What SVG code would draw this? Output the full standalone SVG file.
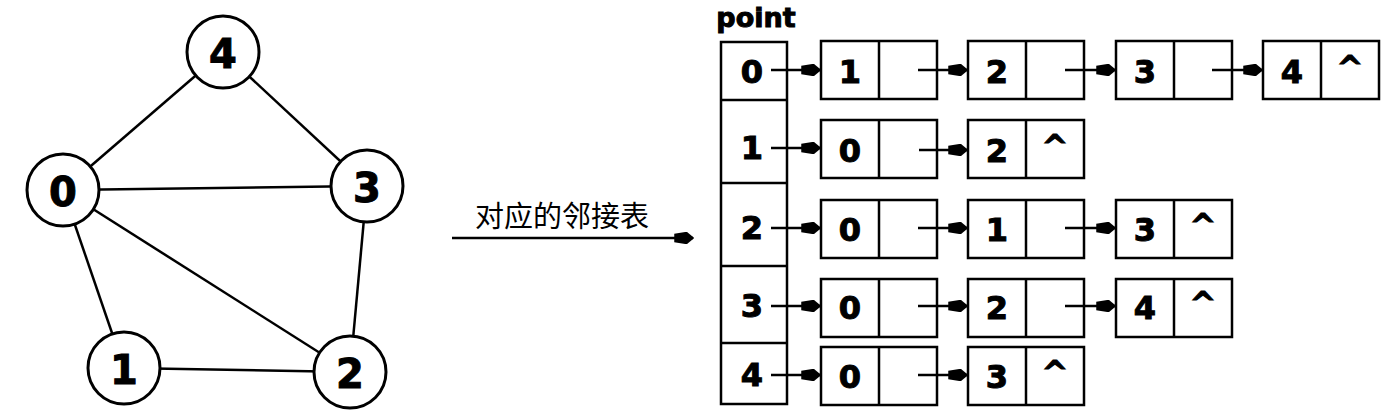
<svg xmlns="http://www.w3.org/2000/svg" width="1385" height="413" viewBox="0 0 1385 413">
<style>
.n{fill:#fff;stroke:#000;stroke-width:3}
.e{stroke:#000;stroke-width:2.5}
.b{fill:none;stroke:#000;stroke-width:2.5}
.t{font-family:"DejaVu Sans",sans-serif;font-weight:bold;text-anchor:middle;dominant-baseline:central;fill:#000;stroke:#000;stroke-width:1}
.g{font-size:40px}
.l{font-size:32px}
.a{stroke:#000;stroke-width:2.5;marker-end:url(#m)}
</style>
<defs><marker id="m" markerWidth="8" markerHeight="5" refX="7.5" refY="2.5" orient="auto" markerUnits="strokeWidth"><path d="M0,0.8 L5,0 L8,2.5 L5,5 L0,4.2Z" fill="#000"/></marker></defs>
<rect width="1385" height="413" fill="#fff"/>
<g id="edges">
<line class="e" x1="63" y1="190" x2="223" y2="52"/>
<line class="e" x1="223" y1="52" x2="367" y2="186"/>
<line class="e" x1="63" y1="190" x2="367" y2="186"/>
<line class="e" x1="63" y1="190" x2="350" y2="372"/>
<line class="e" x1="63" y1="190" x2="124" y2="368"/>
<line class="e" x1="124" y1="368" x2="350" y2="372"/>
<line class="e" x1="367" y1="186" x2="350" y2="372"/>
</g>
<g id="v4"><circle class="n" cx="223" cy="52" r="36"/><text class="t g" x="223" y="54">4</text></g>
<g id="v0"><circle class="n" cx="63" cy="190" r="36"/><text class="t g" x="63" y="192">0</text></g>
<g id="v3"><circle class="n" cx="367" cy="186" r="36"/><text class="t g" x="367" y="188">3</text></g>
<g id="v1"><circle class="n" cx="124" cy="368" r="36"/><text class="t g" x="124" y="370">1</text></g>
<g id="v2"><circle class="n" cx="350" cy="372" r="36"/><text class="t g" x="350" y="374">2</text></g>
<g id="label">
<text x="562" y="214" font-family="'Noto Sans CJK SC',sans-serif" font-size="29" text-anchor="middle" dominant-baseline="central">对应的邻接表</text>
<line class="a" x1="452" y1="238" x2="693" y2="238"/>
</g>
<g id="point">
<text class="t" x="756" y="17" font-size="27">point</text>
<rect class="b" x="721" y="42" width="66" height="362"/>
<line class="e" x1="721" y1="100" x2="787" y2="100"/>
<line class="e" x1="721" y1="183" x2="787" y2="183"/>
<line class="e" x1="721" y1="266" x2="787" y2="266"/>
<line class="e" x1="721" y1="343" x2="787" y2="343"/>
<text class="t l" x="752" y="72">0</text>
<text class="t l" x="752" y="148">1</text>
<text class="t l" x="752" y="228">2</text>
<text class="t l" x="752" y="306">3</text>
<text class="t l" x="752" y="375">4</text>
</g>
<g id="lists">
<g id="r0">
<rect class="b" x="821" y="41" width="116" height="58"/><line class="e" x1="879" y1="41" x2="879" y2="99"/><text class="t l" x="850" y="72">1</text>
<rect class="b" x="968" y="41" width="116" height="58"/><line class="e" x1="1026" y1="41" x2="1026" y2="99"/><text class="t l" x="997" y="72">2</text>
<rect class="b" x="1116" y="41" width="116" height="58"/><line class="e" x1="1174" y1="41" x2="1174" y2="99"/><text class="t l" x="1145" y="72">3</text>
<rect class="b" x="1263" y="41" width="116" height="58"/><line class="e" x1="1321" y1="41" x2="1321" y2="99"/><text class="t l" x="1292" y="72">4</text><text class="t l" x="1350" y="68">^</text>
</g>
<g id="r1">
<rect class="b" x="821" y="120" width="116" height="58"/><line class="e" x1="879" y1="120" x2="879" y2="178"/><text class="t l" x="850" y="151">0</text>
<rect class="b" x="968" y="120" width="116" height="58"/><line class="e" x1="1026" y1="120" x2="1026" y2="178"/><text class="t l" x="997" y="151">2</text><text class="t l" x="1055" y="147">^</text>
</g>
<g id="r2">
<rect class="b" x="821" y="200" width="116" height="58"/><line class="e" x1="879" y1="200" x2="879" y2="258"/><text class="t l" x="850" y="230">0</text>
<rect class="b" x="968" y="200" width="116" height="58"/><line class="e" x1="1026" y1="200" x2="1026" y2="258"/><text class="t l" x="997" y="230">1</text>
<rect class="b" x="1116" y="200" width="116" height="58"/><line class="e" x1="1174" y1="200" x2="1174" y2="258"/><text class="t l" x="1145" y="230">3</text><text class="t l" x="1203" y="226">^</text>
</g>
<g id="r3">
<rect class="b" x="821" y="279" width="116" height="58"/><line class="e" x1="879" y1="279" x2="879" y2="337"/><text class="t l" x="850" y="308">0</text>
<rect class="b" x="968" y="279" width="116" height="58"/><line class="e" x1="1026" y1="279" x2="1026" y2="337"/><text class="t l" x="997" y="308">2</text>
<rect class="b" x="1116" y="279" width="116" height="58"/><line class="e" x1="1174" y1="279" x2="1174" y2="337"/><text class="t l" x="1145" y="308">4</text><text class="t l" x="1203" y="304">^</text>
</g>
<g id="r4">
<rect class="b" x="821" y="347" width="116" height="58"/><line class="e" x1="879" y1="347" x2="879" y2="405"/><text class="t l" x="850" y="377">0</text>
<rect class="b" x="968" y="347" width="116" height="58"/><line class="e" x1="1026" y1="347" x2="1026" y2="405"/><text class="t l" x="997" y="377">3</text><text class="t l" x="1055" y="373">^</text>
</g>
</g>
<g id="connectors">
<line class="a" x1="771" y1="70" x2="820" y2="70"/>
<line class="a" x1="918" y1="70" x2="967" y2="70"/>
<line class="a" x1="1065" y1="70" x2="1115" y2="70"/>
<line class="a" x1="1212" y1="70" x2="1262" y2="70"/>
<line class="a" x1="771" y1="148" x2="820" y2="148"/>
<line class="a" x1="919" y1="150" x2="967" y2="150"/>
<line class="a" x1="771" y1="228" x2="820" y2="228"/>
<line class="a" x1="918" y1="228" x2="967" y2="228"/>
<line class="a" x1="1065" y1="228" x2="1115" y2="228"/>
<line class="a" x1="771" y1="306" x2="820" y2="306"/>
<line class="a" x1="918" y1="306" x2="967" y2="306"/>
<line class="a" x1="1065" y1="306" x2="1115" y2="306"/>
<line class="a" x1="771" y1="375" x2="820" y2="375"/>
<line class="a" x1="918" y1="375" x2="967" y2="375"/>
</g>
</svg>
